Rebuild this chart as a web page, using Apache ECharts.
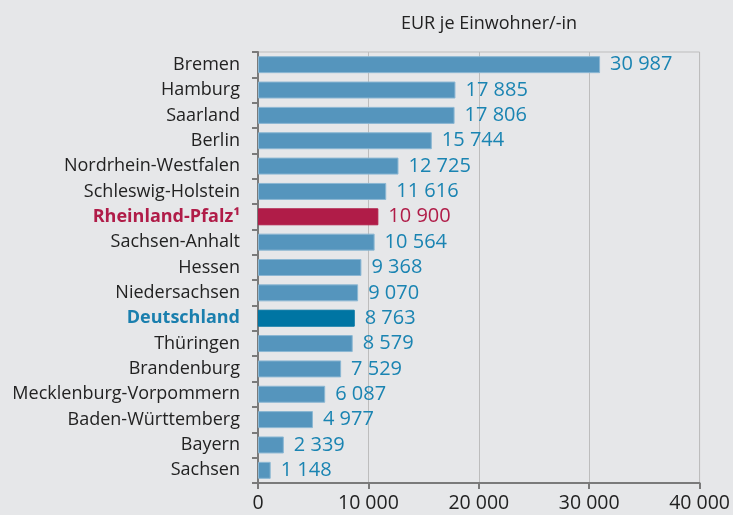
<!DOCTYPE html>
<html>
<head>
<meta charset="utf-8">
<script src="https://cdn.jsdelivr.net/npm/echarts@6/dist/echarts.min.js"></script>
<style>
  html, body { margin: 0; padding: 0; background: #e6e7e9; }
  #chart { width: 733px; height: 515px; }
</style>
</head>
<body>
<div id="chart"></div>
<script>
// Länder, sortiert wie im Original (oben nach unten)
const laender = [
  'Bremen', 'Hamburg', 'Saarland', 'Berlin', 'Nordrhein-Westfalen',
  'Schleswig-Holstein', 'Rheinland-Pfalz', 'Sachsen-Anhalt', 'Hessen',
  'Niedersachsen', 'Deutschland', 'Thüringen', 'Brandenburg',
  'Mecklenburg-Vorpommern', 'Baden-Württemberg', 'Bayern', 'Sachsen'
];
const werte = [
  30987, 17885, 17806, 15744, 12725,
  11616, 10900, 10564, 9368,
  9070, 8763, 8579, 7529,
  6087, 4977, 2339, 1148
];
const xTicks = [0, 10000, 20000, 30000, 40000];
const einheit = 'EUR je Einwohner/-in';

const FONT = 'Open Sans';
const fmt = v => String(v).replace(/\B(?=(\d{3})+(?!\d))/g, ' ');

const farbe = {
  normal: '#5595bd',
  rlp: '#b01c48',
  de: '#0075a3',
  wert: '#1a84b2'
};

const data = werte.map((v, i) => {
  const name = laender[i];
  let color = farbe.normal, labelColor = farbe.wert, border = '#8bb7d3';
  if (name === 'Rheinland-Pfalz') { color = farbe.rlp; labelColor = farbe.rlp; border = farbe.rlp; }
  if (name === 'Deutschland') { color = farbe.de; border = farbe.de; }
  return {
    value: v,
    itemStyle: { color, borderColor: border, borderWidth: 1 },
    label: { color: labelColor }
  };
});

const chart = echarts.init(document.getElementById('chart'), null, { renderer: 'canvas' });

chart.setOption({
  backgroundColor: '#e6e7e9',
  animation: false,
  title: {
    text: einheit,
    left: 484,
    top: 10,
    textAlign: 'center',
    textStyle: { fontFamily: FONT, fontSize: 18, fontWeight: 'normal', color: '#222' }
  },
  grid: {
    left: 258, right: 32, top: 52, bottom: 32,
    show: true, borderColor: '#bdbdbd', borderWidth: 1, backgroundColor: 'transparent'
  },
  xAxis: {
    type: 'value',
    min: xTicks[0],
    max: xTicks[xTicks.length - 1],
    interval: xTicks[1] - xTicks[0],
    axisLine: { show: true, lineStyle: { color: '#7a7a7a', width: 2 } },
    axisTick: { show: true, length: 6, lineStyle: { color: '#7a7a7a', width: 2 } },
    splitLine: { show: true, lineStyle: { color: '#bdbdbd', width: 1 } },
    axisLabel: {
      fontFamily: FONT, fontSize: 19.5, color: '#222', margin: 10,
      formatter: v => fmt(v)
    }
  },
  yAxis: {
    type: 'category',
    data: laender,
    inverse: true,
    axisLine: { show: true, lineStyle: { color: '#7a7a7a', width: 2 } },
    axisTick: { show: true, length: 6, lineStyle: { color: '#7a7a7a', width: 2 } },
    axisLabel: {
      fontFamily: FONT, fontSize: 18, color: '#222', margin: 18,
      formatter: v => {
        if (v === 'Rheinland-Pfalz') return '{rlp|Rheinland-Pfalz¹}';
        if (v === 'Deutschland') return '{de|Deutschland}';
        return v;
      },
      rich: {
        rlp: { fontFamily: FONT, fontSize: 18, fontWeight: 'bold', color: farbe.rlp },
        de: { fontFamily: FONT, fontSize: 18, fontWeight: 'bold', color: '#1a7fae' }
      }
    }
  },
  series: [{
    type: 'bar',
    data: data,
    barCategoryGap: '33%',
    label: {
      show: true,
      position: 'right',
      distance: 10,
      fontFamily: FONT,
      fontSize: 20,
      formatter: p => fmt(p.value)
    }
  }]
});
</script>
</body>
</html>
